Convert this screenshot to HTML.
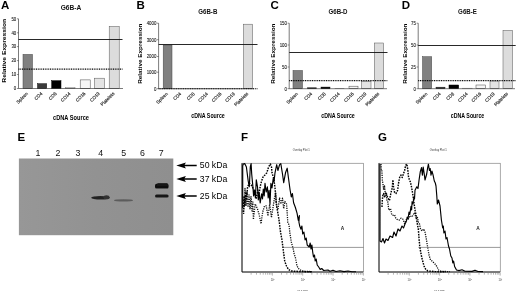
<!DOCTYPE html>
<html><head><meta charset="utf-8"><title>Figure</title>
<style>
html,body{margin:0;padding:0;background:#fff;}
svg{display:block;font-family:"Liberation Sans",Arial,sans-serif;}
.pl{font-size:11.5px;font-weight:bold;fill:#000;}
.tt{font-size:6.9px;font-weight:bold;fill:#111;}
.al{font-size:6.5px;font-weight:bold;fill:#000;}
.al2{font-size:5.9px;font-weight:bold;fill:#000;}
.tk{font-size:5px;fill:#111;stroke:#111;stroke-width:0.08px;}
.xl{font-size:4.6px;fill:#111;stroke:#111;stroke-width:0.12px;}
.ln{font-size:8.8px;fill:#111;}
.kd{font-size:8.7px;fill:#000;}
.tiny{font-size:2.7px;fill:#333;}
.tiny2{font-size:2.6px;fill:#333;}
.ga{font-size:4.8px;font-weight:bold;fill:#222;}
</style></head>
<body>
<svg width="520" height="292" viewBox="0 0 520 292">
<defs><linearGradient id="bg" x1="0" y1="0" x2="1" y2="0"><stop offset="0" stop-color="#979797"/><stop offset="0.5" stop-color="#929292"/><stop offset="1" stop-color="#8f8f8f"/></linearGradient><filter id="bl" x="-10%" y="-50%" width="120%" height="200%"><feGaussianBlur stdDeviation="0.75"/></filter></defs>
<rect width="520" height="292" fill="#fff"/>
<text x="0.9" y="9.3" class="pl">A</text>
<text transform="translate(71,9.8) scale(0.96,1)" class="tt"  text-anchor="middle">G6B-A</text>
<g transform="translate(0,0.3)">
<text transform="translate(6.2,50.5) rotate(-90) scale(1.14,1)" class="al2" text-anchor="middle">Relative Expression</text>
<text transform="translate(71,119.3) scale(0.87,1)" class="al" text-anchor="middle">cDNA Source</text>
<rect x="23" y="54.1" width="9.50" height="34.10" fill="#808080" stroke="#444" stroke-width="0.5"/>
<rect x="37.5" y="83.4" width="9.20" height="4.80" fill="#3a3a3a" stroke="#111" stroke-width="0.5"/>
<rect x="51.7" y="80.4" width="9.30" height="7.80" fill="#000" stroke="#000" stroke-width="0.5"/>
<rect x="65.5" y="87.4" width="9.50" height="0.80" fill="#ececec" stroke="#777" stroke-width="0.5"/>
<rect x="80.2" y="79.6" width="10.00" height="8.60" fill="#f6f6f6" stroke="#444" stroke-width="0.5"/>
<rect x="94.4" y="77.9" width="10.20" height="10.30" fill="#e4e4e4" stroke="#555" stroke-width="0.5"/>
<rect x="109.2" y="26.2" width="10.00" height="62.00" fill="#dcdcdc" stroke="#555" stroke-width="0.5"/>
<path d="M18.5 18.5V88.2H123" fill="none" stroke="#222" stroke-width="0.6"/>
<path d="M16.9 18.5H18.5" stroke="#222" stroke-width="0.5"/>
<text transform="translate(16.3,20.3) scale(0.88,1)" class="tk" text-anchor="end">50</text>
<path d="M16.9 32.5H18.5" stroke="#222" stroke-width="0.5"/>
<text transform="translate(16.3,34.3) scale(0.88,1)" class="tk" text-anchor="end">40</text>
<path d="M16.9 46.3H18.5" stroke="#222" stroke-width="0.5"/>
<text transform="translate(16.3,48.099999999999994) scale(0.88,1)" class="tk" text-anchor="end">30</text>
<path d="M16.9 60.3H18.5" stroke="#222" stroke-width="0.5"/>
<text transform="translate(16.3,62.099999999999994) scale(0.88,1)" class="tk" text-anchor="end">20</text>
<path d="M16.9 74.2H18.5" stroke="#222" stroke-width="0.5"/>
<text transform="translate(16.3,76.0) scale(0.88,1)" class="tk" text-anchor="end">10</text>
<path d="M16.9 88.2H18.5" stroke="#222" stroke-width="0.5"/>
<text transform="translate(16.3,90.0) scale(0.88,1)" class="tk" text-anchor="end">0</text>
<path d="M18.5 39.2H122.5" stroke="#111" stroke-width="0.9"/>
<path d="M18.5 68.8H122.5" stroke="#000" stroke-width="1.15" stroke-dasharray="1 0.75"/>
<text transform="translate(28.35,93.6) rotate(-45)" class="xl" text-anchor="end">Spleen</text>
<text transform="translate(42.70,93.6) rotate(-45)" class="xl" text-anchor="end">CD4</text>
<text transform="translate(56.95,93.6) rotate(-45)" class="xl" text-anchor="end">CD8</text>
<text transform="translate(70.85,93.6) rotate(-45)" class="xl" text-anchor="end">CD14</text>
<text transform="translate(85.80,93.6) rotate(-45)" class="xl" text-anchor="end">CD16</text>
<text transform="translate(100.10,93.6) rotate(-45)" class="xl" text-anchor="end">CD19</text>
<text transform="translate(114.80,93.6) rotate(-45)" class="xl" text-anchor="end">Platelets</text>
</g>
<text x="136.5" y="9.3" class="pl">B</text>
<text transform="translate(207.8,14.2) scale(0.96,1)" class="tt" style="font-size:6.4px" text-anchor="middle">G6B-B</text>
<g transform="translate(0,0.5)">
<text transform="translate(142.1,53.2) rotate(-90) scale(1.077,1)" class="al2" text-anchor="middle">Relative Expression</text>
<text transform="translate(208,117.2) scale(0.815,1)" class="al" text-anchor="middle">cDNA Source</text>
<rect x="163.2" y="44.5" width="8.80" height="43.70" fill="#808080" stroke="#444" stroke-width="0.5"/>
<rect x="176.5" y="88.2" width="9.00" height="0.00" fill="#3a3a3a" stroke="#111" stroke-width="0.5"/>
<rect x="189.9" y="88.2" width="9.00" height="0.00" fill="#000" stroke="#000" stroke-width="0.5"/>
<rect x="203.3" y="88.2" width="9.00" height="0.00" fill="#ececec" stroke="#777" stroke-width="0.5"/>
<rect x="216.7" y="88.2" width="9.00" height="0.00" fill="#f6f6f6" stroke="#444" stroke-width="0.5"/>
<rect x="230.1" y="88.2" width="9.00" height="0.00" fill="#e4e4e4" stroke="#555" stroke-width="0.5"/>
<rect x="243.4" y="23.7" width="9.10" height="64.50" fill="#dcdcdc" stroke="#555" stroke-width="0.5"/>
<path d="M158.6 22.7V88.2H254" fill="none" stroke="#222" stroke-width="0.6"/>
<path d="M157.0 22.7H158.6" stroke="#222" stroke-width="0.5"/>
<text transform="translate(156.4,24.5) scale(0.88,1)" class="tk" text-anchor="end">4000</text>
<path d="M157.0 39.2H158.6" stroke="#222" stroke-width="0.5"/>
<text transform="translate(156.4,41.0) scale(0.88,1)" class="tk" text-anchor="end">3000</text>
<path d="M157.0 56H158.6" stroke="#222" stroke-width="0.5"/>
<text transform="translate(156.4,57.8) scale(0.88,1)" class="tk" text-anchor="end">2000</text>
<path d="M157.0 71.7H158.6" stroke="#222" stroke-width="0.5"/>
<text transform="translate(156.4,73.5) scale(0.88,1)" class="tk" text-anchor="end">1000</text>
<path d="M157.0 88.2H158.6" stroke="#222" stroke-width="0.5"/>
<text transform="translate(156.4,90.0) scale(0.88,1)" class="tk" text-anchor="end">0</text>
<path d="M158.6 44.0H257.5" stroke="#111" stroke-width="0.9"/>
<path d="M158.6 88.2H257.5" stroke="#000" stroke-width="1.15" stroke-dasharray="1 0.75"/>
<text transform="translate(168.20,93.6) rotate(-45)" class="xl" text-anchor="end">Spleen</text>
<text transform="translate(181.60,93.6) rotate(-45)" class="xl" text-anchor="end">CD4</text>
<text transform="translate(195.00,93.6) rotate(-45)" class="xl" text-anchor="end">CD8</text>
<text transform="translate(208.40,93.6) rotate(-45)" class="xl" text-anchor="end">CD14</text>
<text transform="translate(221.80,93.6) rotate(-45)" class="xl" text-anchor="end">CD16</text>
<text transform="translate(235.20,93.6) rotate(-45)" class="xl" text-anchor="end">CD19</text>
<text transform="translate(248.55,93.6) rotate(-45)" class="xl" text-anchor="end">Platelets</text>
</g>
<text x="270.4" y="9.3" class="pl">C</text>
<text transform="translate(338,14.2) scale(0.96,1)" class="tt" style="font-size:6.4px" text-anchor="middle">G6B-D</text>
<g transform="translate(0,0.5)">
<text transform="translate(274.7,53.2) rotate(-90) scale(1.077,1)" class="al2" text-anchor="middle">Relative Expression</text>
<text transform="translate(338,117.2) scale(0.815,1)" class="al" text-anchor="middle">cDNA Source</text>
<rect x="293" y="70" width="9.50" height="18.20" fill="#808080" stroke="#444" stroke-width="0.5"/>
<rect x="307.5" y="87.3" width="9.00" height="0.90" fill="#3a3a3a" stroke="#111" stroke-width="0.5"/>
<rect x="321" y="86.6" width="9.00" height="1.60" fill="#000" stroke="#000" stroke-width="0.5"/>
<rect x="335" y="87.8" width="9.00" height="0.40" fill="#ececec" stroke="#777" stroke-width="0.5"/>
<rect x="349" y="85.7" width="9.00" height="2.50" fill="#f6f6f6" stroke="#444" stroke-width="0.5"/>
<rect x="361.5" y="80.7" width="9.50" height="7.50" fill="#e4e4e4" stroke="#555" stroke-width="0.5"/>
<rect x="374.3" y="42.5" width="9.40" height="45.70" fill="#dcdcdc" stroke="#555" stroke-width="0.5"/>
<path d="M289.2 22.7V88.2H387" fill="none" stroke="#222" stroke-width="0.6"/>
<path d="M287.59999999999997 22.7H289.2" stroke="#222" stroke-width="0.5"/>
<text transform="translate(287.0,24.5) scale(0.88,1)" class="tk" text-anchor="end">150</text>
<path d="M287.59999999999997 44.5H289.2" stroke="#222" stroke-width="0.5"/>
<text transform="translate(287.0,46.3) scale(0.88,1)" class="tk" text-anchor="end">100</text>
<path d="M287.59999999999997 66.5H289.2" stroke="#222" stroke-width="0.5"/>
<text transform="translate(287.0,68.3) scale(0.88,1)" class="tk" text-anchor="end">50</text>
<path d="M287.59999999999997 88.2H289.2" stroke="#222" stroke-width="0.5"/>
<text transform="translate(287.0,90.0) scale(0.88,1)" class="tk" text-anchor="end">0</text>
<path d="M289.2 52.0H387.5" stroke="#111" stroke-width="0.9"/>
<path d="M289.2 80.1H387.5" stroke="#000" stroke-width="1.15" stroke-dasharray="1 0.75"/>
<text transform="translate(298.35,93.6) rotate(-45)" class="xl" text-anchor="end">Spleen</text>
<text transform="translate(312.60,93.6) rotate(-45)" class="xl" text-anchor="end">CD4</text>
<text transform="translate(326.10,93.6) rotate(-45)" class="xl" text-anchor="end">CD8</text>
<text transform="translate(340.10,93.6) rotate(-45)" class="xl" text-anchor="end">CD14</text>
<text transform="translate(354.10,93.6) rotate(-45)" class="xl" text-anchor="end">CD16</text>
<text transform="translate(366.85,93.6) rotate(-45)" class="xl" text-anchor="end">CD19</text>
<text transform="translate(379.60,93.6) rotate(-45)" class="xl" text-anchor="end">Platelets</text>
</g>
<text x="401.7" y="9.3" class="pl">D</text>
<text transform="translate(467.5,14.2) scale(0.96,1)" class="tt" style="font-size:6.4px" text-anchor="middle">G6B-E</text>
<g transform="translate(0,0.5)">
<text transform="translate(406.9,53.2) rotate(-90) scale(1.077,1)" class="al2" text-anchor="middle">Relative Expression</text>
<text transform="translate(467.5,117.2) scale(0.815,1)" class="al" text-anchor="middle">cDNA Source</text>
<rect x="422.5" y="56.2" width="9.20" height="32.00" fill="#808080" stroke="#444" stroke-width="0.5"/>
<rect x="436" y="86.7" width="9.00" height="1.50" fill="#3a3a3a" stroke="#111" stroke-width="0.5"/>
<rect x="449" y="84.5" width="9.70" height="3.70" fill="#000" stroke="#000" stroke-width="0.5"/>
<rect x="462.7" y="87.7" width="9.60" height="0.50" fill="#ececec" stroke="#777" stroke-width="0.5"/>
<rect x="476" y="84.5" width="9.70" height="3.70" fill="#f6f6f6" stroke="#444" stroke-width="0.5"/>
<rect x="490" y="80.5" width="9.00" height="7.70" fill="#e4e4e4" stroke="#555" stroke-width="0.5"/>
<rect x="503" y="30" width="9.50" height="58.20" fill="#dcdcdc" stroke="#555" stroke-width="0.5"/>
<path d="M418.2 22.7V88.2H515" fill="none" stroke="#222" stroke-width="0.6"/>
<path d="M416.59999999999997 22.7H418.2" stroke="#222" stroke-width="0.5"/>
<text transform="translate(416.0,24.5) scale(0.88,1)" class="tk" text-anchor="end">75</text>
<path d="M416.59999999999997 44.5H418.2" stroke="#222" stroke-width="0.5"/>
<text transform="translate(416.0,46.3) scale(0.88,1)" class="tk" text-anchor="end">50</text>
<path d="M416.59999999999997 66.5H418.2" stroke="#222" stroke-width="0.5"/>
<text transform="translate(416.0,68.3) scale(0.88,1)" class="tk" text-anchor="end">25</text>
<path d="M416.59999999999997 88.2H418.2" stroke="#222" stroke-width="0.5"/>
<text transform="translate(416.0,90.0) scale(0.88,1)" class="tk" text-anchor="end">0</text>
<path d="M418.2 45.0H515.7" stroke="#111" stroke-width="0.9"/>
<path d="M418.2 80.1H515.7" stroke="#000" stroke-width="1.15" stroke-dasharray="1 0.75"/>
<text transform="translate(427.70,93.6) rotate(-45)" class="xl" text-anchor="end">Spleen</text>
<text transform="translate(441.10,93.6) rotate(-45)" class="xl" text-anchor="end">CD4</text>
<text transform="translate(454.45,93.6) rotate(-45)" class="xl" text-anchor="end">CD8</text>
<text transform="translate(468.10,93.6) rotate(-45)" class="xl" text-anchor="end">CD14</text>
<text transform="translate(481.45,93.6) rotate(-45)" class="xl" text-anchor="end">CD16</text>
<text transform="translate(495.10,93.6) rotate(-45)" class="xl" text-anchor="end">CD19</text>
<text transform="translate(508.35,93.6) rotate(-45)" class="xl" text-anchor="end">Platelets</text>
</g>
<text x="17.5" y="141.3" class="pl">E</text>
<text x="38" y="156" class="ln" text-anchor="middle">1</text>
<text x="58" y="156" class="ln" text-anchor="middle">2</text>
<text x="78" y="156" class="ln" text-anchor="middle">3</text>
<text x="100.7" y="156" class="ln" text-anchor="middle">4</text>
<text x="123.7" y="156" class="ln" text-anchor="middle">5</text>
<text x="142.5" y="156" class="ln" text-anchor="middle">6</text>
<text x="161.2" y="156" class="ln" text-anchor="middle">7</text>
<rect x="18.9" y="158.5" width="154.4" height="76.7" fill="url(#bg)"/>
<g filter="url(#bl)">
<ellipse cx="100.5" cy="197.7" rx="9.3" ry="1.7" fill="#222"/>
<ellipse cx="106.5" cy="197.2" rx="3" ry="2" fill="#333"/>
<ellipse cx="123.5" cy="200.4" rx="9.5" ry="1.1" fill="#5c5c5c"/>
<rect x="155" y="183.8" width="13.6" height="4.8" rx="1.6" fill="#111"/>
<rect x="157" y="183.2" width="11" height="3" rx="1.2" fill="#151515"/>
<rect x="155" y="194.4" width="13.6" height="3.2" rx="1.5" fill="#181818"/>
</g>
<path d="M196.7 165.5H182" stroke="#000" stroke-width="1.5"/><path d="M176.3 165.5l9.6 -3.1l-1.7 3.1l1.7 3.1z" fill="#000"/>
<text x="199.8" y="168.2" class="kd">50 kDa</text>
<path d="M196.7 179H182" stroke="#000" stroke-width="1.5"/><path d="M176.3 179l9.6 -3.1l-1.7 3.1l1.7 3.1z" fill="#000"/>
<text x="199.8" y="181.7" class="kd">37 kDa</text>
<path d="M196.7 196H182" stroke="#000" stroke-width="1.5"/><path d="M176.3 196l9.6 -3.1l-1.7 3.1l1.7 3.1z" fill="#000"/>
<text x="199.8" y="198.7" class="kd">25 kDa</text>
<text x="241" y="141.3" class="pl">F</text>
<text x="301.3" y="151" class="tiny" text-anchor="middle">Overlay Plot 1</text>
<text x="302.59999999999997" y="290.6" class="tiny" style="font-size:2.4px" text-anchor="middle">FL 1 LOG</text>
<rect x="242" y="163.2" width="121.39999999999998" height="108.8" fill="none" stroke="#555" stroke-width="0.5"/>
<path d="M242 163.2V272H363.4" fill="none" stroke="#111" stroke-width="0.9"/>
<path d="M283.4 247.4H363.4" stroke="#333" stroke-width="0.5"/>
<text x="342.5" y="230" class="ga" text-anchor="middle">A</text>
<path d="M251.14 273v1.7M256.48 273v1.7M260.27 273v1.7M263.21 273v1.7M265.62 273v1.7M267.65 273v1.7M269.41 273v1.7M270.96 273v1.7M272.35 273v2.6M281.49 273v1.7M286.83 273v1.7M290.62 273v1.7M293.56 273v1.7M295.97 273v1.7M298.00 273v1.7M299.76 273v1.7M301.31 273v1.7M302.70 273v2.6M311.84 273v1.7M317.18 273v1.7M320.97 273v1.7M323.91 273v1.7M326.32 273v1.7M328.35 273v1.7M330.11 273v1.7M331.66 273v1.7M333.05 273v2.6M342.19 273v1.7M347.53 273v1.7M351.32 273v1.7M354.26 273v1.7M356.67 273v1.7M358.70 273v1.7M360.46 273v1.7M362.01 273v1.7M363.40 273v2.6" stroke="#444" stroke-width="0.4"/>
<text x="272.6" y="280.6" class="tiny2" text-anchor="middle">10<tspan dy="-0.9" font-size="1.8">1</tspan></text>
<text x="302.9" y="280.6" class="tiny2" text-anchor="middle">10<tspan dy="-0.9" font-size="1.8">2</tspan></text>
<text x="333.2" y="280.6" class="tiny2" text-anchor="middle">10<tspan dy="-0.9" font-size="1.8">3</tspan></text>
<text x="363.6" y="280.6" class="tiny2" text-anchor="middle">10<tspan dy="-0.9" font-size="1.8">4</tspan></text>
<polyline points="243.6,214.0 244.3,205.9 245.0,188.5 246.0,205.4 247.0,191.0 248.0,207.2 249.0,194.8 250.0,209.3 251.0,196.6 252.0,210.9 252.8,202.0 253.4,219.5 255.2,203.9 257.5,208.9 259.2,214.8 261.0,223.8 262.7,211.9 264.5,206.0 266.2,205.9 268.0,216.0 269.7,204.2 271.5,217.6 273.2,206.3 274.4,198.6 275.5,192.4 276.7,207.3 277.9,209.9 279.6,197.8 280.8,204.0 282.5,198.2 283.7,208.6 284.9,201.5 286.6,204.0 287.8,222.5 289.0,224.8 290.0,234.0 291.5,243.0 293.0,248.0 294.2,254.0 295.5,258.0 297.0,266.0 299.0,269.0 301.0,270.3 304.0,271.2 312.0,271.7" fill="none" stroke="#111" stroke-width="1.3" stroke-dasharray="1.2 1.1" stroke-linejoin="round"/>
<polyline points="243.3,212.0 244.0,196.0 244.8,206.0 245.6,192.0 246.4,200.0 247.0,193.8 247.6,186.8 249.3,183.3 251.7,185.6 253.4,189.0 255.2,192.6 256.5,198.0 257.8,190.0 259.0,194.0 260.3,186.0 261.6,181.0 263.3,176.3 265.0,175.0 266.8,172.8 268.6,167.0 270.3,164.0 271.5,167.0 272.0,172.8 273.8,178.6 275.0,188.0 275.6,193.5 276.1,201.7 277.3,209.8 278.5,216.8 279.3,222.0 280.5,232.0 282.0,240.0 283.5,252.0 284.7,261.0 286.5,266.0 288.5,269.5 291.0,271.0 301.0,271.6 312.0,271.8" fill="none" stroke="#000" stroke-width="1.45" stroke-dasharray="1.6 1.1" stroke-linejoin="round"/>
<polyline points="242.7,208.0 242.7,166.0 243.2,164.0 244.7,163.6 246.4,167.0 248.2,181.0 249.3,186.8 250.3,167.0 251.1,163.6 251.7,174.0 252.8,185.6 253.6,196.0 254.6,190.3 255.4,198.0 256.3,179.8 257.5,186.8 258.3,200.0 259.2,193.0 260.2,203.0 261.6,193.8 262.5,199.0 263.3,189.0 264.2,196.0 265.0,183.3 266.2,192.0 267.4,186.8 268.2,198.0 269.1,190.3 270.0,204.0 270.9,183.3 272.0,188.0 273.2,178.6 274.0,182.0 275.0,172.8 276.7,164.7 277.9,170.5 279.6,164.7 280.8,163.6 282.5,174.0 283.7,182.7 285.5,172.8 287.2,168.2 288.4,177.5 290.1,190.0 291.3,197.0 292.4,193.5 293.6,202.8 295.4,207.5 297.1,213.3 298.3,220.3 299.4,215.6 298.9,222.0 299.7,226.0 301.0,229.2 301.9,226.0 302.7,234.0 303.9,232.0 305.1,240.0 306.2,238.0 307.2,245.0 309.2,247.0 310.2,243.0 311.0,249.0 311.9,245.0 312.7,252.0 313.5,257.0 314.5,255.0 315.2,261.0 316.2,259.0 317.2,265.0 318.7,267.0 320.2,269.5 321.7,268.5 323.7,270.5 328.0,270.0 330.0,271.2 333.0,270.2 336.0,271.5 340.0,270.8 344.0,271.6 348.0,271.0 352.0,271.7 356.0,271.8" fill="none" stroke="#000" stroke-width="1.15" stroke-linejoin="round"/>

<text x="378" y="141.3" class="pl">G</text>
<text x="438.20000000000005" y="151" class="tiny" text-anchor="middle">Overlay Plot 1</text>
<text x="439.5" y="290.6" class="tiny" style="font-size:2.4px" text-anchor="middle">FL 1 LOG</text>
<rect x="379" y="163.2" width="121.19999999999999" height="108.8" fill="none" stroke="#555" stroke-width="0.5"/>
<path d="M379 163.2V272H500.2" fill="none" stroke="#111" stroke-width="0.9"/>
<path d="M418.3 247.4H500.2" stroke="#333" stroke-width="0.5"/>
<text x="478" y="230" class="ga" text-anchor="middle">A</text>
<path d="M388.12 273v1.7M393.46 273v1.7M397.24 273v1.7M400.18 273v1.7M402.58 273v1.7M404.61 273v1.7M406.36 273v1.7M407.91 273v1.7M409.30 273v2.6M418.42 273v1.7M423.76 273v1.7M427.54 273v1.7M430.48 273v1.7M432.88 273v1.7M434.91 273v1.7M436.66 273v1.7M438.21 273v1.7M439.60 273v2.6M448.72 273v1.7M454.06 273v1.7M457.84 273v1.7M460.78 273v1.7M463.18 273v1.7M465.21 273v1.7M466.96 273v1.7M468.51 273v1.7M469.90 273v2.6M479.02 273v1.7M484.36 273v1.7M488.14 273v1.7M491.08 273v1.7M493.48 273v1.7M495.51 273v1.7M497.26 273v1.7M498.81 273v1.7M500.20 273v2.6" stroke="#444" stroke-width="0.4"/>
<text x="409.5" y="280.6" class="tiny2" text-anchor="middle">10<tspan dy="-0.9" font-size="1.8">1</tspan></text>
<text x="439.8" y="280.6" class="tiny2" text-anchor="middle">10<tspan dy="-0.9" font-size="1.8">2</tspan></text>
<text x="470.1" y="280.6" class="tiny2" text-anchor="middle">10<tspan dy="-0.9" font-size="1.8">3</tspan></text>
<text x="500.4" y="280.6" class="tiny2" text-anchor="middle">10<tspan dy="-0.9" font-size="1.8">4</tspan></text>
<polyline points="381.0,164.0 381.4,170.0 381.8,169.8 382.4,180.9 383.0,183.9 383.6,189.8 384.5,185.3 385.3,194.3 386.3,194.7 387.0,200.6 387.7,201.2 388.8,210.2 390.6,208.6 391.7,214.7 393.5,215.4 394.6,215.0 395.8,218.3 397.6,219.9 399.3,220.0 401.0,218.2 402.8,219.0 404.6,223.6 406.0,220.0 408.0,219.5 410.0,215.7 412.0,216.9 414.5,212.6 416.2,218.3 417.4,217.4 418.5,222.7 419.5,224.0 420.5,229.0 422.0,231.0 423.7,229.0 425.0,232.0 426.5,240.0 427.8,248.0 429.0,255.0 430.5,260.0 432.0,261.0 433.5,262.5 435.0,264.0 436.5,266.0 438.6,270.0 441.0,271.2 450.0,271.7" fill="none" stroke="#111" stroke-width="1.3" stroke-dasharray="1.2 1.1" stroke-linejoin="round"/>
<polyline points="382.0,207.0 382.3,200.0 383.0,194.0 383.6,193.5 384.7,197.5 385.9,192.3 387.6,197.0 389.4,200.5 390.6,194.7 391.4,191.0 392.3,188.0 392.9,179.8 393.5,186.8 394.6,192.6 396.0,193.5 397.6,190.3 398.7,182.1 399.9,176.3 401.0,175.1 402.2,177.5 403.4,174.0 404.6,170.5 405.7,165.2 406.9,164.0 407.7,169.3 408.6,177.5 410.4,182.1 411.5,186.8 412.7,193.8 413.5,199.0 414.3,205.0 415.0,210.0 416.0,215.0 417.0,222.0 418.3,229.0 419.0,238.0 419.7,246.0 421.0,254.0 422.4,260.0 424.0,266.0 425.5,269.0 427.8,271.0 435.0,271.6 446.0,271.8" fill="none" stroke="#000" stroke-width="1.45" stroke-dasharray="1.6 1.1" stroke-linejoin="round"/>
<polyline points="380.0,164.0 380.0,241.0 381.5,242.0 383.0,238.5 384.5,243.0 386.0,239.0 388.0,240.5 390.0,236.0 392.6,237.5 394.0,232.0 396.0,236.0 398.0,229.0 400.0,231.0 402.0,226.0 403.5,228.0 405.1,223.8 406.3,221.5 407.2,217.0 408.0,219.0 409.0,212.0 409.8,214.5 411.0,206.3 411.6,210.0 412.1,201.7 413.0,204.0 413.9,197.0 414.5,199.0 415.0,190.3 416.8,186.8 418.0,188.5 419.1,179.8 420.3,171.7 421.5,167.6 422.4,175.2 423.2,167.0 424.4,175.2 425.0,180.0 426.7,174.0 427.6,168.0 428.4,164.2 429.4,170.5 430.2,168.5 431.0,175.2 431.9,171.0 433.1,175.2 434.3,181.0 435.3,183.0 436.0,186.0 436.8,196.0 437.3,204.0 438.5,200.0 440.0,206.0 440.8,214.0 441.4,220.0 442.7,228.0 443.3,226.0 443.9,233.0 445.0,231.0 446.0,239.0 447.0,237.5 448.5,246.0 449.5,249.0 450.8,256.0 452.0,258.0 452.8,263.0 453.6,261.0 454.6,266.5 456.5,270.0 459.0,270.6 462.0,269.8 465.0,271.3 472.0,271.4 475.0,270.2 478.0,271.5 483.0,271.6" fill="none" stroke="#000" stroke-width="1.15" stroke-linejoin="round"/>

</svg>
</body></html>
